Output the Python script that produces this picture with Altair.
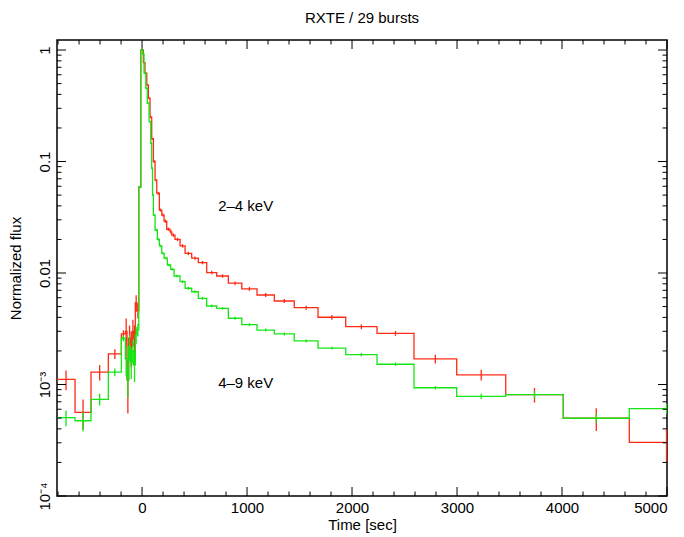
import altair as alt
import pandas as pd

# ---------------- data ----------------
# bin start times [s]; the last bin of each series ends at last_end
red_start = [-810, -638, -486, -321, -197, -159, -143, -127, -111, -95, -79, -64, -48, -31,
             -12, 12, 28, 45, 60, 76, 92, 108, 124, 140,
             165, 188, 210, 235, 267, 283, 314, 362, 410, 473,
             536, 616, 711, 822, 950, 1095, 1260, 1450, 1676, 1940,
             2238, 2590, 2997, 3464, 4012, 4641]
red_flux = [0.00111, 0.000563, 0.00129, 0.00188, 0.00284, 0.0030, 0.0011, 0.0026, 0.0022, 0.0030,
            0.0026, 0.0054, 0.0046, 0.059,
            1.0, 0.77, 0.62, 0.485, 0.37, 0.25, 0.16, 0.10, 0.068, 0.052,
            0.0367, 0.0331, 0.0292, 0.0247, 0.0234, 0.0219, 0.0200, 0.0175, 0.0150, 0.0136,
            0.0124, 0.0101, 0.0094, 0.0081, 0.0072, 0.00635, 0.00561, 0.00489, 0.00401, 0.0033,
            0.00288, 0.0017, 0.00122, 0.00081, 0.000498, 0.000303]
red_relerr = [0.2, 0.3, 0.16, 0.1, 0.08, 0.3, 0.5, 0.3, 0.35, 0.27, 0.3, 0.17, 0.15, 0.025,
              0.015, 0.015, 0.015, 0.015, 0.02, 0.02, 0.02, 0.025, 0.025, 0.03,
              0.03, 0.03, 0.035, 0.035, 0.035, 0.035, 0.035, 0.035, 0.035, 0.035,
              0.035, 0.035, 0.035, 0.035, 0.04, 0.04, 0.04, 0.04, 0.05, 0.05,
              0.05, 0.09, 0.11, 0.15, 0.23, 0.33]

green_start = [-810, -638, -486, -321, -197, -159, -143, -127, -111, -95, -79, -64, -48, -31,
               -12, 6, 19, 36, 50, 67, 83, 92, 100, 108,
               124, 146, 165, 188, 210, 241, 273, 305, 362, 410,
               473, 536, 616, 711, 822, 950, 1095, 1260, 1450, 1676,
               1940, 2238, 2590, 2997, 3464, 4012, 4641]
green_flux = [0.000504, 0.000473, 0.000737, 0.00129, 0.0026, 0.0017, 0.0011, 0.0022, 0.0016, 0.0020,
              0.0015, 0.0028, 0.0031, 0.059,
              1.0, 0.92, 0.62, 0.454, 0.333, 0.228, 0.146, 0.087, 0.050, 0.0331,
              0.0243, 0.0200, 0.0175, 0.0150, 0.0136, 0.0118, 0.0108, 0.0094, 0.00836, 0.0073,
              0.00679, 0.00593, 0.00506, 0.00482, 0.00393, 0.00344, 0.00308, 0.00284, 0.00246, 0.00212,
              0.00185, 0.00152, 0.000935, 0.000783, 0.00081, 0.000498, 0.000607]
green_relerr = [0.16, 0.2, 0.12, 0.08, 0.06, 0.3, 0.3, 0.25, 0.3, 0.25, 0.3, 0.18, 0.13, 0.02,
                0.015, 0.015, 0.015, 0.015, 0.015, 0.02, 0.02, 0.02, 0.02, 0.02,
                0.025, 0.025, 0.025, 0.025, 0.025, 0.025, 0.025, 0.025, 0.03, 0.03,
                0.03, 0.03, 0.03, 0.03, 0.03, 0.03, 0.03, 0.03, 0.03, 0.03,
                0.035, 0.035, 0.035, 0.055, 0.08, 0.09, 0.1]

last_end = 5350

x_major = [0, 1000, 2000, 3000, 4000, 5000]
y_major = [1e-4, 1e-3, 1e-2, 0.1, 1.0]

labels = ["2\u20134 keV", "4\u20139 keV"]
label_t = [725, 725]
label_v = [0.040, 0.00103]

# ---------------- derived tables ----------------
x_minor = [v for v in range(-800, 5000, 200) if v % 1000 != 0]
y_minor = [m * 10.0 ** k for k in range(-4, 0) for m in range(2, 10)]


def step_df(starts, flux):
    return pd.DataFrame({"t": list(starts) + [last_end], "v": list(flux) + [flux[-1]]})


def err_df(starts, flux, rel):
    ends = list(starts[1:]) + [last_end]
    return pd.DataFrame({
        "t": [(a + b) / 2 for a, b in zip(starts, ends)],
        "lo": [f * (1 - r) for f, r in zip(flux, rel)],
        "hi": [f * (1 + r) for f, r in zip(flux, rel)],
    })


W, H = 610, 456
FONT = "Liberation Sans"
FS = 15
RED = "#ff2a14"
GREEN = "#14e614"

xscale = alt.Scale(domain=[-810, 5000], nice=False, zero=False)
yscale = alt.Scale(type="log", domain=[1e-4, 1.23], nice=False)

x_axis = alt.Axis(values=x_major, format="d", ticks=False, domain=False, grid=False,
                  title="Time [sec]", labelFontSize=FS, titleFontSize=FS,
                  labelPadding=4, titlePadding=2, labelFont=FONT, titleFont=FONT,
                  titleFontWeight="normal", labelColor="black", titleColor="black")
y_axis = alt.Axis(values=y_major, ticks=False, domain=False, grid=False,
                  labelAngle=-90, labelAlign="center", labelBaseline="bottom",
                  labelExpr="datum.value < 0.0005 ? '10\u207b\u2074' : (datum.value < 0.005 ? '10\u207b\u00b3' : format(datum.value, '~g'))",
                  title="Normalized flux", labelFontSize=FS, titleFontSize=FS,
                  labelPadding=5, titlePadding=14, labelFont=FONT, titleFont=FONT,
                  titleFontWeight="normal", labelColor="black", titleColor="black")

X = lambda f: alt.X(f, scale=xscale, axis=x_axis, title="Time [sec]")
Y = lambda f: alt.Y(f, scale=yscale, axis=y_axis, title="Normalized flux")


def series_layers(starts, flux, rel, color):
    line = alt.Chart(step_df(starts, flux)).mark_line(
        interpolate="step-after", color=color, strokeWidth=1.3, clip=True
    ).encode(x=X("t:Q"), y=Y("v:Q"))
    err = alt.Chart(err_df(starts, flux, rel)).mark_rule(
        color=color, strokeWidth=1.3, clip=True
    ).encode(x=X("t:Q"), y=Y("lo:Q"), y2="hi:Q")
    return [line, err]


def xticks(vals, length):
    df = pd.DataFrame({"t": vals})
    base = alt.Chart(df).mark_rule(color="black", strokeWidth=1)
    bottom = base.encode(x=X("t:Q"), y=alt.value(H), y2=alt.value(H - length))
    top = base.encode(x=X("t:Q"), y=alt.value(0), y2=alt.value(length))
    return [bottom, top]


def yticks(vals, length):
    df = pd.DataFrame({"v": vals})
    base = alt.Chart(df).mark_rule(color="black", strokeWidth=1)
    left = base.encode(y=Y("v:Q"), x=alt.value(0), x2=alt.value(length))
    right = base.encode(y=Y("v:Q"), x=alt.value(W), x2=alt.value(W - length))
    return [left, right]


text = alt.Chart(pd.DataFrame({"label": labels, "t": label_t, "v": label_v})).mark_text(
    align="left", baseline="middle", fontSize=FS, font=FONT, color="black"
).encode(x=X("t:Q"), y=Y("v:Q"), text="label:N")

layers = (series_layers(red_start, red_flux, red_relerr, RED)
          + series_layers(green_start, green_flux, green_relerr, GREEN)
          + xticks(x_major, 9) + xticks(x_minor, 4.5)
          + yticks(y_major, 9) + yticks(y_minor, 4.5)
          + [text])

chart = alt.layer(*layers).properties(
    width=W, height=H,
    title=alt.TitleParams("RXTE / 29 bursts", fontSize=FS, font=FONT, fontWeight="normal",
                          color="black", anchor="middle", offset=14),
    autosize=alt.AutoSizeParams(type="none"),
    padding={"left": 49, "top": 32, "right": 9, "bottom": 41},
).configure_view(stroke="black", strokeWidth=1.5)

chart.save("out.html", embed_options={"renderer": "svg", "actions": False})
